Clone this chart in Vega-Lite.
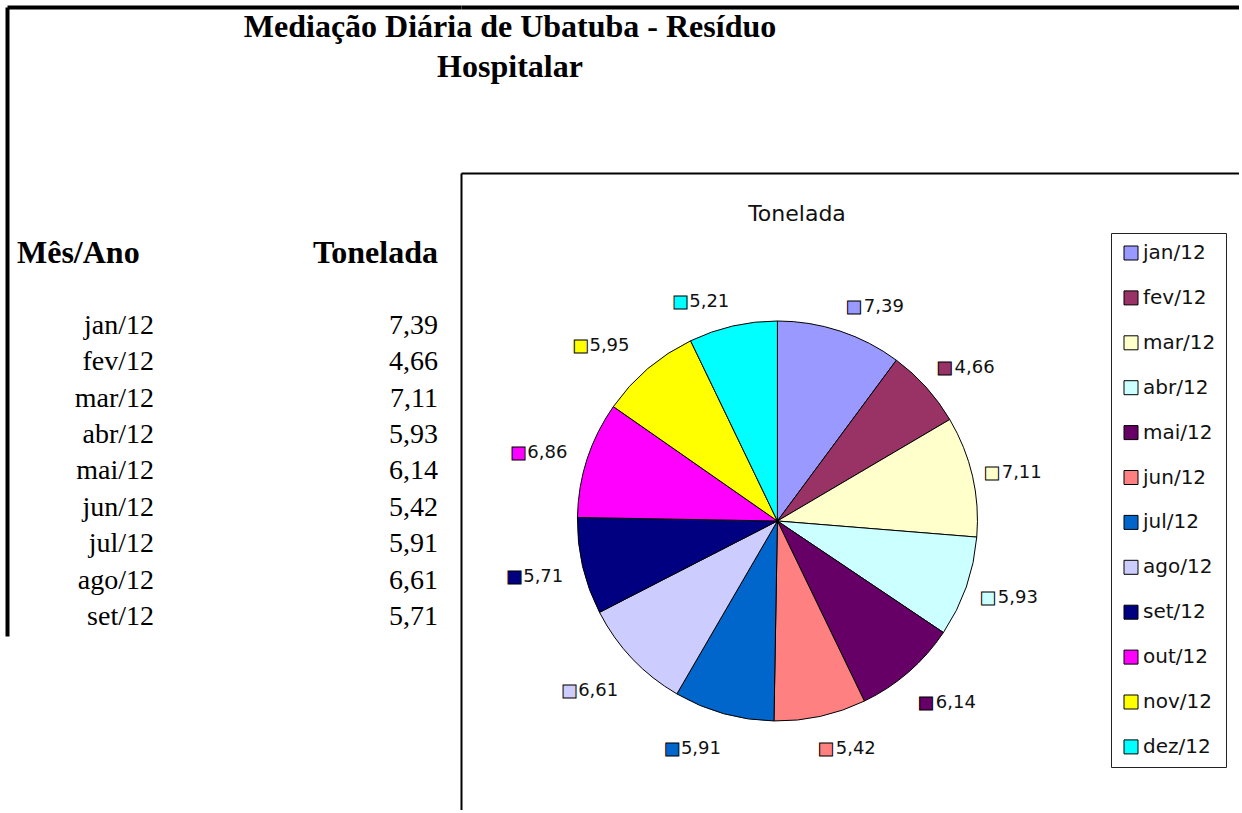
{
  "$schema": "https://vega.github.io/schema/vega-lite/v6.json",
  "background": "white",
  "padding": {"left": 7, "top": 7, "right": 0, "bottom": 0},
  "title": {
    "text": ["Mediação Diária de Ubatuba - Resíduo", "Hospitalar"],
    "font": "Liberation Serif", "fontSize": 32, "fontWeight": "bold", "color": "black",
    "anchor": "start", "align": "center", "baseline": "top", "frame": "group",
    "dx": 503, "offset": -77, "lineHeight": 40
  },
  "datasets": {
    "dados": [
      {"mes": "jan/12", "tonelada": 7.39, "ordem": 1},
      {"mes": "fev/12", "tonelada": 4.66, "ordem": 2},
      {"mes": "mar/12", "tonelada": 7.11, "ordem": 3},
      {"mes": "abr/12", "tonelada": 5.93, "ordem": 4},
      {"mes": "mai/12", "tonelada": 6.14, "ordem": 5},
      {"mes": "jun/12", "tonelada": 5.42, "ordem": 6},
      {"mes": "jul/12", "tonelada": 5.91, "ordem": 7},
      {"mes": "ago/12", "tonelada": 6.61, "ordem": 8},
      {"mes": "set/12", "tonelada": 5.71, "ordem": 9},
      {"mes": "out/12", "tonelada": 6.86, "ordem": 10},
      {"mes": "nov/12", "tonelada": 5.95, "ordem": 11},
      {"mes": "dez/12", "tonelada": 5.21, "ordem": 12}
    ]
  },
  "spacing": 0,
  "hconcat": [
    {
      "width": 454,
      "height": 460,
      "data": {"name": "dados"},
      "transform": [{"filter": "datum.ordem <= 9"}],
      "layer": [
        {
          "mark": {"type": "text", "font": "Liberation Serif", "fontSize": 28, "align": "right", "baseline": "middle", "color": "black"},
          "encoding": {
            "x": {"datum": "Mês/Ano", "type": "nominal", "scale": {"type": "point", "domain": ["Mês/Ano", "Tonelada"], "range": [0, 454], "padding": 0.2993, "align": 0.8647}, "axis": {"orient": "top", "offset": 166, "domainWidth": 4, "title": null}},
            "y": {"field": "mes", "type": "nominal", "scale": {"type": "point", "domain": [" ", "  ", "   ", "    ", "     ", "      ", "Mês/Ano", "       ", "jan/12", "fev/12", "mar/12", "abr/12", "mai/12", "jun/12", "jul/12", "ago/12", "set/12"], "range": [-166, 463], "padding": 0.64, "align": 0.592}, "axis": {"orient": "left", "domainWidth": 4, "title": null}},
            "text": {"field": "mes", "type": "nominal"}
          }
        },
        {
          "mark": {"type": "text", "font": "Liberation Serif", "fontSize": 28, "align": "right", "baseline": "middle", "color": "black"},
          "encoding": {
            "x": {"datum": "Tonelada", "type": "nominal", "axis": {"orient": "top", "offset": 166, "domainWidth": 4, "title": null}},
            "y": {"field": "mes", "type": "nominal", "axis": {"orient": "left", "domainWidth": 4, "title": null}},
            "text": {"field": "tonelada", "type": "quantitative", "format": ".2f"}
          }
        },
        {
          "data": {"values": [{"cabecalho": "Mês/Ano"}]},
          "mark": {"type": "text", "font": "Liberation Serif", "fontSize": 32, "fontWeight": "bold", "align": "left", "baseline": "middle", "color": "black", "dx": -137},
          "encoding": {
            "x": {"datum": "Mês/Ano", "type": "nominal", "axis": {"orient": "top", "offset": 166, "domainWidth": 4, "title": null}},
            "y": {"datum": "Mês/Ano", "type": "nominal", "axis": {"orient": "left", "domainWidth": 4, "title": null}},
            "text": {"field": "cabecalho", "type": "nominal"}
          }
        },
        {
          "data": {"values": [{"cabecalho": "Tonelada"}]},
          "mark": {"type": "text", "font": "Liberation Serif", "fontSize": 32, "fontWeight": "bold", "align": "right", "baseline": "middle", "color": "black"},
          "encoding": {
            "x": {"datum": "Tonelada", "type": "nominal", "axis": {"orient": "top", "offset": 166, "domainWidth": 4, "title": null}},
            "y": {"datum": "Mês/Ano", "type": "nominal", "axis": {"orient": "left", "domainWidth": 4, "title": null}},
            "text": {"field": "cabecalho", "type": "nominal"}
          }
        }
      ]
    },
    {
      "width": 778,
      "height": 637,
      "data": {"name": "dados"},
      "title": {
        "text": "Tonelada", "font": "DejaVu Sans", "fontSize": 22, "fontWeight": "normal", "color": "#111111",
        "anchor": "middle", "frame": "group", "dx": -53, "offset": -241, "baseline": "bottom"
      },
      "layer": [
        {
          "mark": {"type": "arc", "outerRadius": 200, "stroke": "black", "strokeWidth": 1},
          "encoding": {
            "x": {"datum": 0.4067, "type": "quantitative", "scale": {"domain": [0, 1]}, "axis": {"orient": "top", "offset": 166, "domainWidth": 4, "title": null}},
            "y": {"datum": 0.4537, "type": "quantitative", "scale": {"domain": [0, 1]}, "axis": {"orient": "left", "domainWidth": 2, "title": null}},
            "theta": {"field": "tonelada", "type": "quantitative", "stack": true},
            "order": {"field": "ordem", "type": "quantitative"},
            "color": {
              "field": "mes", "type": "nominal",
              "scale": {
                "domain": ["jan/12", "fev/12", "mar/12", "abr/12", "mai/12", "jun/12", "jul/12", "ago/12", "set/12", "out/12", "nov/12", "dez/12"],
                "range": ["#9999FF", "#993366", "#FFFFCC", "#CCFFFF", "#660066", "#FF8080", "#0066CC", "#CCCCFF", "#000080", "#FF00FF", "#FFFF00", "#00FFFF"]
              },
              "legend": {
                "orient": "none", "legendX": 1104, "legendY": 60, "title": null,
                "symbolType": "square", "symbolSize": 196, "symbolStrokeColor": "black", "symbolStrokeWidth": 1,
                "labelFont": "DejaVu Sans", "labelFontSize": 20, "labelColor": "#111111", "labelOffset": 2, "labelLimit": 300,
                "rowPadding": 24.9, "padding": 10, "strokeColor": "#222222"
              }
            }
          }
        },
        {
          "mark": {"type": "text", "text": "■", "radius": 225,
            "dx": {"expr": "(datum.ordem <= 6 ? 6 : -49) + [0, -6, -11, -8, -5, -6, 4, 4, 5, 4, -2, 2][datum.ordem - 1]"},
            "dy": {"expr": "[0, -2, 2, 3, 12, 8, 11, 15, 5, 1, -4, 0][datum.ordem - 1]"},
            "font": "DejaVu Sans", "fontSize": 17, "stroke": "black", "strokeWidth": 1, "align": "center", "baseline": "middle"},
          "encoding": {
            "x": {"datum": 0.4067, "type": "quantitative", "scale": {"domain": [0, 1]}, "axis": {"orient": "top", "offset": 0, "domainWidth": 2, "title": null}},
            "y": {"datum": 0.4537, "type": "quantitative", "axis": {"orient": "left", "domainWidth": 2, "title": null}},
            "theta": {"field": "tonelada", "type": "quantitative", "stack": true},
            "order": {"field": "ordem", "type": "quantitative"},
            "color": {"field": "mes", "type": "nominal"}
          }
        },
        {
          "mark": {"type": "text", "radius": 225,
            "dx": {"expr": "(datum.ordem <= 6 ? 16 : 0) + [0, -6, -11, -8, -5, -6, 4, 4, 5, 4, -2, 2][datum.ordem - 1]"},
            "dy": {"expr": "[0, -2, 2, 3, 12, 8, 11, 15, 5, 1, -4, 0][datum.ordem - 1]"},
            "align": {"expr": "datum.ordem <= 6 ? 'left' : 'right'"},
            "font": "DejaVu Sans", "fontSize": 18, "color": "#111111", "baseline": "middle"},
          "encoding": {
            "x": {"datum": 0.4067, "type": "quantitative", "scale": {"domain": [0, 1]}, "axis": null},
            "y": {"datum": 0.4537, "type": "quantitative", "axis": {"orient": "left", "domainWidth": 2, "title": null}},
            "theta": {"field": "tonelada", "type": "quantitative", "stack": true},
            "order": {"field": "ordem", "type": "quantitative"},
            "detail": {"field": "mes", "type": "nominal"},
            "text": {"field": "tonelada", "type": "quantitative", "format": ".2f"}
          }
        }
      ],
      "resolve": {"scale": {"x": "independent"}, "axis": {"x": "independent"}}
    }
  ],
  "config": {
    "view": {"stroke": null},
    "axis": {"labels": false, "ticks": false, "grid": false, "domainColor": "black"},
    "locale": {"number": {"decimal": ",", "thousands": ".", "grouping": [3], "currency": ["R$", ""]}}
  }
}
